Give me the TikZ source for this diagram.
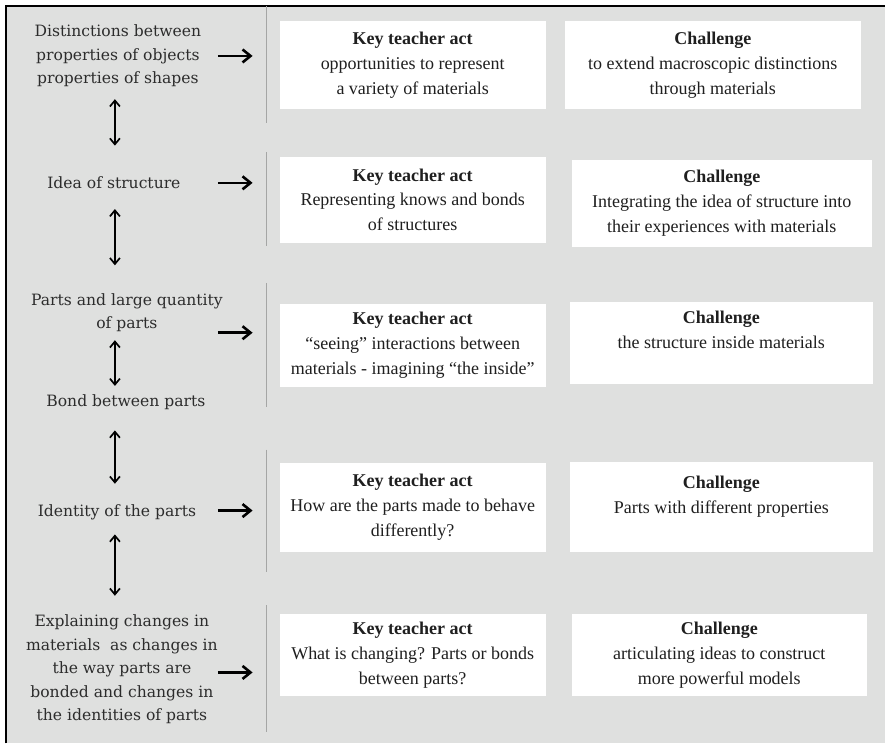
\documentclass[tikz,border=0pt]{standalone}
\usepackage{fontspec}
\usepackage{tikz}
\usetikzlibrary{arrows.meta,positioning}
\usepackage{color}

\definecolor{panel}{HTML}{DFE0DF}
\definecolor{rule}{HTML}{A5A6A5}
\definecolor{ink}{HTML}{2C2C2C}

\newfontfamily\stagefam{DejaVu Serif}
\newfontfamily\actfam{Liberation Serif}
\newcommand{\stagefont}{\stagefam\fontsize{15.6}{23.5}\selectfont}
\newcommand{\actfont}{\actfam\fontsize{18}{25}\selectfont}

\begin{document}
\begin{tikzpicture}[x=1pt, y=-1pt,
	stage/.style={align=center, inner sep=0pt, text=ink, font=\stagefont},
	act/.style={fill=white, align=center, inner sep=0pt, text=black!88, font=\actfont, minimum width=266pt},
	chal/.style={act, minimum width=300pt},
	toact/.style={-{Straight Barb[length=8pt,width=13pt]}, line width=2.6pt, shorten >=27pt},
	link/.style={{Straight Barb[length=6pt,width=10pt]}-{Straight Barb[length=6pt,width=10pt]}, line width=1.7pt}]
	% background panel, only the top and left edges of the frame show
	\fill[white] (0,0) rectangle (886,744);
	\fill[panel] (6,6) rectangle (886,744);
	\draw[line width=1.5pt] (6,744) -- (6,6) -- (886,6);
	\draw[rule, line width=1.3pt] (267,6) -- (267,123) (267,152) -- (267,246)
		(267,283) -- (267,407) (267,450) -- (267,572) (267,606) -- (267,733);
	% the stages on the left
	\node [stage] (dist) at (118,56) {Distinctions between\\properties of objects\\properties of shapes};
	\node [stage] (idea) at (114,183) {Idea of structure};
	\node [stage] (parts) at (127,313) {Parts and large quantity\\of parts};
	\node [stage] (bond) at (126,403) {Bond between parts};
	\node [stage] (ident) at (117,513) {Identity of the parts};
	\node [stage] (expl) at (122,670) {Explaining changes in\\materials\ \ as changes in\\the way parts are\\bonded and changes in\\the identities of parts};
	% teacher acts and challenges
	\node [act, minimum height=88pt] (kta1) at (413,65) {\textbf{Key teacher act}\\opportunities to represent\\a variety of materials};
	\node [chal, minimum height=88pt, minimum width=296pt, right=19pt of kta1] (ch1) {\textbf{Challenge}\\to extend macroscopic distinctions\\through materials};
	\node [act, minimum height=86pt] (kta2) at (413,200) {\textbf{Key teacher act}\\Representing knows and bonds\\of structures};
	\node [chal, minimum height=87pt, right=26pt of kta2, yshift=-3.5pt] (ch2) {\textbf{Challenge}\\Integrating the idea of structure into\\their experiences with materials};
	\node [act, minimum height=83pt] (kta3) at (413,345.5) {\textbf{Key teacher act}\\“seeing” interactions between\\materials - imagining “the inside”};
	\node [chal, minimum height=82pt, minimum width=303pt, right=24pt of kta3, yshift=2.5pt] (ch3) {\textbf{Challenge}\\the structure inside materials\\~};
	\node [act, minimum height=89pt] (kta4) at (413,507.5) {\textbf{Key teacher act}\\How are the parts made to behave\\differently?};
	\node [chal, minimum height=90pt, minimum width=303pt, right=24pt of kta4] (ch4) {\textbf{Challenge}\\Parts with different properties\\~};
	\node [act, minimum height=82pt] (kta5) at (413,656) {\textbf{Key teacher act}\\What is changing? Parts or bonds\\between parts?};
	\node [chal, minimum height=82pt, minimum width=295pt, right=26pt of kta5] (ch5) {\textbf{Challenge}\\articulating ideas to construct\\more powerful models};
	% arrow tails in front of the acts
	\coordinate (s1) at (218,56);
	\coordinate (s2) at (218,183);
	\coordinate (s3) at (218,333);
	\coordinate (s4) at (218,511);
	\coordinate (s5) at (218,673);
	\draw [toact] (s1) -- (s1 -| kta1.west);
	\draw [toact] (s2) -- (s2 -| kta2.west);
	\draw [toact] (s3) -- (s3 -| kta3.west);
	\draw [toact] (s4) -- (s4 -| kta4.west);
	\draw [toact] (s5) -- (s5 -| kta5.west);
	% links between the stages
	\coordinate (lx) at (115,0);
	\draw [link, shorten <=12pt, shorten >=31pt] (dist.south -| lx) -- (idea.north -| lx);
	\draw [link, shorten <=20pt, shorten >=28pt] (idea.south -| lx) -- (parts.north -| lx);
	\draw [link, shorten <=8pt, shorten >=9pt] (parts.south -| lx) -- (bond.north -| lx);
	\draw [link, shorten <=20pt, shorten >=21pt] (bond.south -| lx) -- (ident.north -| lx);
	\draw [link, shorten <=14pt, shorten >=19pt] (ident.south -| lx) -- (expl.north -| lx);
\end{tikzpicture}
\end{document}
